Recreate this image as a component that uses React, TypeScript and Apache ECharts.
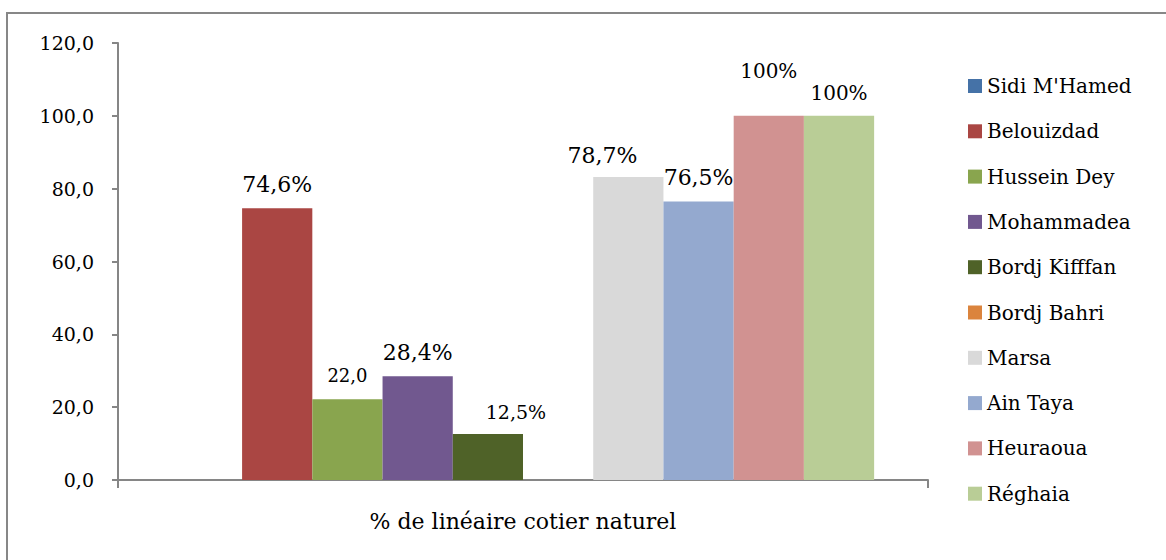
import React, { useEffect, useRef } from "react";
import * as echarts from "echarts";

const categories = ["% de linéaire cotier naturel"];
const seriesNames = [
  "Sidi M'Hamed",
  "Belouizdad",
  "Hussein Dey",
  "Mohammadea",
  "Bordj Kifffan",
  "Bordj Bahri",
  "Marsa",
  "Ain Taya",
  "Heuraoua",
  "Réghaia",
];
const seriesValues = [0, 74.6, 22.2, 28.5, 12.6, 0, 83.2, 76.5, 100, 100];
const labelTexts = ["", "74,6%", "22,0", "28,4%", "12,5%", "", "78,7%", "76,5%", "100%", "100%"];
const colors = [
  "#4572A7",
  "#AA4643",
  "#89A54E",
  "#71588F",
  "#4F6228",
  "#DB843D",
  "#D9D9D9",
  "#94A9CF",
  "#D19291",
  "#B9CD96",
];
const labelSizes = [22, 22, 18, 22, 19, 22, 22, 22, 20, 20];
const labelOffsets = [
  [0, 0],
  [0, 0],
  [0, -2],
  [0, 0],
  [28, 0],
  [0, 0],
  [-26, 2],
  [0, 0],
  [0, -22],
  [0, 0],
];
const yTicks = { min: 0, max: 120, interval: 20 };

const FONT = "DejaVu Serif";

export default function App() {
  const ref = useRef<HTMLDivElement>(null);
  useEffect(() => {
    if (!ref.current) return;
    const chart = echarts.init(ref.current, undefined, { renderer: "svg" });
    chart.setOption({
      animation: false,
      backgroundColor: "#ffffff",
      textStyle: { fontFamily: FONT },
      graphic: [
        {
          type: "rect",
          shape: { x: 7, y: 13, width: 1180, height: 570 },
          style: { fill: "none", stroke: "#878787", lineWidth: 2 },
          silent: true,
        },
      ],
      grid: { left: 118, top: 43, right: 238, bottom: 80, containLabel: false },
      legend: {
        orient: "vertical",
        left: 963,
        top: 71,
        itemWidth: 14,
        itemHeight: 14,
        itemGap: 25.3,
        icon: "rect",
        data: seriesNames,
        textStyle: { fontFamily: FONT, fontSize: 20, color: "#000", lineHeight: 20 },
      },
      xAxis: {
        type: "category",
        data: categories,
        axisLine: { lineStyle: { color: "#868686", width: 2 } },
        axisTick: { show: true, length: 8, lineStyle: { color: "#868686", width: 2 } },
        axisLabel: { margin: 30, fontFamily: FONT, fontSize: 22, color: "#000" },
      },
      yAxis: {
        type: "value",
        min: yTicks.min,
        max: yTicks.max,
        interval: yTicks.interval,
        splitLine: { show: false },
        axisLine: { show: true, lineStyle: { color: "#868686", width: 2 } },
        axisTick: { show: true, length: 6, lineStyle: { color: "#868686", width: 2 } },
        axisLabel: {
          margin: 24,
          fontFamily: FONT,
          fontSize: 19,
          color: "#000",
          formatter: (v: number) => v.toFixed(1).replace(".", ","),
        },
      },
      series: seriesNames.map((name, i) => ({
        name,
        type: "bar",
        data: [seriesValues[i]],
        barGap: "0%",
        barCategoryGap: "13.3%",
        itemStyle: { color: colors[i] },
        label: {
          show: labelTexts[i] !== "",
          position: "top",
          distance: 13,
          offset: labelOffsets[i],
          fontFamily: FONT,
          fontSize: labelSizes[i],
          color: "#000",
          formatter: () => labelTexts[i],
        },
      })),
    });
    return () => chart.dispose();
  }, []);
  return (
    <div
      ref={ref}
      style={{ position: "absolute", left: 0, top: 0, width: 1166, height: 560 }}
    />
  );
}
